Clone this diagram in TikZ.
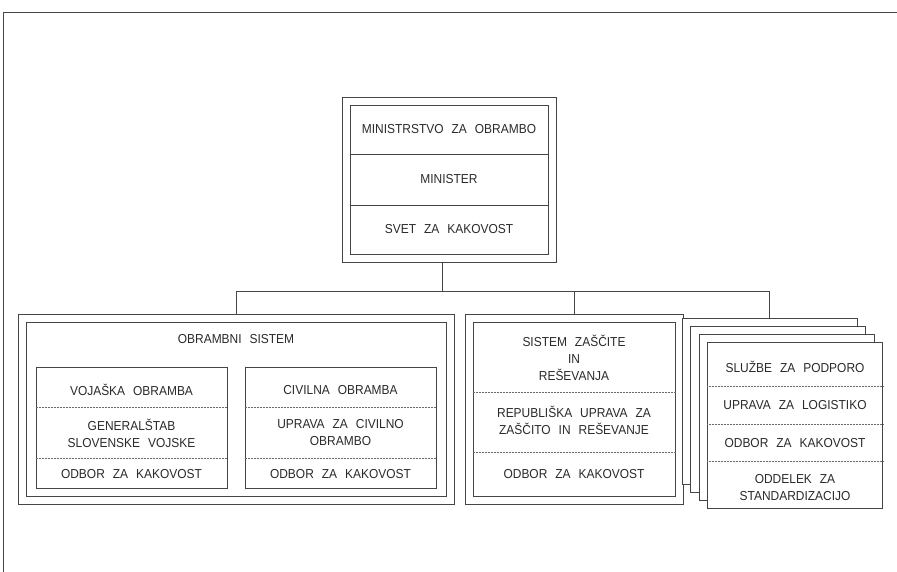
\documentclass[tikz,border=0pt]{standalone}
\usepackage{fontspec}
\setmainfont{Liberation Sans}[WordSpace=2.4, FakeStretch=0.92]
\usetikzlibrary{fit}

\definecolor{linec}{HTML}{454545}
\definecolor{txtc}{HTML}{2A2A2A}

\tikzset{
  box/.style={draw=linec, line width=0.8pt, fill=white, inner sep=0pt},
  row/.style={box, minimum width=198pt},
  lbl/.style={text=txtc, align=center, inner sep=0pt, font=\fontsize{13}{17}\selectfont},
  sep/.style={draw=linec!80, densely dotted, line width=0.5pt},
  wire/.style={draw=linec, line width=0.8pt}
}

\begin{document}
\begin{tikzpicture}[x=1pt, y=-1pt]
            \useasboundingbox (0,0) rectangle (897,572);
            \draw [wire] (3,572) -- (3,12) -- (897,12);
            % ministrstvo
            \node [row, lbl, minimum height=49pt] (mo1) at (449,129.5) {MINISTRSTVO ZA OBRAMBO};
            \node [row, lbl, minimum height=51pt] (mo2) at (449,179.5) {MINISTER};
            \node [row, lbl, minimum height=49pt] (mo3) at (449,229.5) {SVET ZA KAKOVOST};
            \node [box, fill=none, fit=(mo1)(mo3), inner sep=7.6pt] (mo) {};
            % obrambni sistem
            \node [box, minimum width=436pt, minimum height=190pt] (os) at (236,409) {};
            \node [box, minimum width=420pt, minimum height=174pt] (osi) at (os) {};
            \node [lbl] (ost) at (236,339) {OBRAMBNI SISTEM};
            \node [box, minimum width=191pt, minimum height=121pt] (vo) at (131.5,427.5) {};
            \node [box, minimum width=191pt, minimum height=121pt] (co) at (340.5,427.5) {};
            \node [lbl] (vo1) at (vo.center |- 0,390) {VOJAŠKA OBRAMBA};
            \node [lbl] (vo2) at (vo.center |- 0,433) {GENERALŠTAB\\SLOVENSKE VOJSKE};
            \node [lbl] (vo3) at (vo.center |- 0,474) {ODBOR ZA KAKOVOST};
            \node [lbl] (co1) at (co.center |- 0,390) {CIVILNA OBRAMBA};
            \node [lbl] (co2) at (co.center |- 0,433) {UPRAVA ZA CIVILNO\\OBRAMBO};
            \node [lbl] (co3) at (co.center |- 0,474) {ODBOR ZA KAKOVOST};
            \foreach \y in {407,458} {
              \draw [sep] (vo.west |- 0,\y) -- (vo.east |- 0,\y);
              \draw [sep] (co.west |- 0,\y) -- (co.east |- 0,\y);
            }
            % zascita in resevanje
            \node [box, minimum width=218pt, minimum height=190pt] (zr) at (574,409) {};
            \node [box, minimum width=202pt, minimum height=174pt] (zri) at (zr) {};
            \node [lbl] (zr1) at (574,358) {SISTEM ZAŠČITE\\IN\\REŠEVANJA};
            \node [lbl] (zr2) at (574,420) {REPUBLIŠKA UPRAVA ZA\\ZAŠČITO IN REŠEVANJE};
            \node [lbl] (zr3) at (574,474) {ODBOR ZA KAKOVOST};
            \foreach \y in {392,452}
              \draw [sep] (zri.west |- 0,\y) -- (zri.east |- 0,\y);
            % sluzbe, stacked pages
            \foreach \i/\x/\y in {1/769.5/401, 2/778/409, 3/786.5/417, 4/795/425}
              \node [box, minimum width=175pt, minimum height=166pt] (p\i) at (\x,\y) {};
            \node [lbl] (sp1) at (795,367) {SLUŽBE ZA PODPORO};
            \node [lbl] (sp2) at (795,405) {UPRAVA ZA LOGISTIKO};
            \node [lbl] (sp3) at (795,443) {ODBOR ZA KAKOVOST};
            \node [lbl] (sp4) at (795,488) {ODDELEK ZA\\STANDARDIZACIJO};
            \foreach \y in {386,424,461}
              \draw [sep] (p4.west |- 0,\y) -- (p4.east |- 0,\y);
            % connectors
            \coordinate (bar) at (442,291);
            \draw [wire] (mo.south -| bar) -- (bar);
            \draw [wire] (os.north) -- (os.north |- bar) -| (p1.north);
            \draw [wire] (zr.north) -- (zr.north |- bar);
\end{tikzpicture}
\end{document}
